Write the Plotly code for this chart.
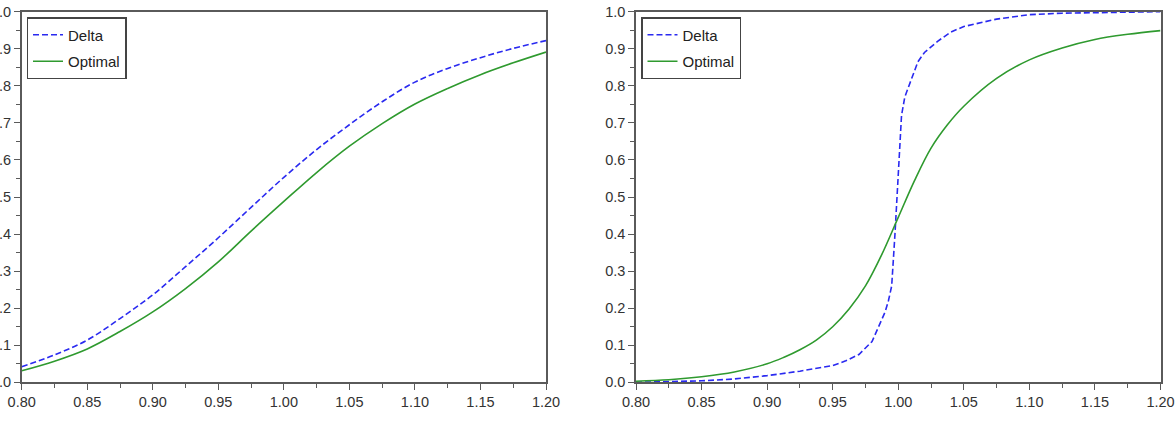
import plotly.graph_objects as go

# ---- Left panel data ----
left_x = [0.80, 0.825, 0.85, 0.875, 0.90, 0.925, 0.95, 0.975, 1.00, 1.025, 1.05,
          1.075, 1.10, 1.125, 1.15, 1.175, 1.20]
left_delta = [0.042, 0.074, 0.114, 0.172, 0.236, 0.312, 0.390, 0.472, 0.553, 0.628,
              0.695, 0.757, 0.810, 0.847, 0.876, 0.901, 0.922]
left_optimal = [0.031, 0.057, 0.090, 0.137, 0.190, 0.253, 0.325, 0.408, 0.488, 0.566,
                0.637, 0.698, 0.751, 0.793, 0.830, 0.862, 0.891]

# ---- Right panel data ----
right_delta_x = [0.80, 0.825, 0.85, 0.875, 0.90, 0.925, 0.95, 0.96, 0.97, 0.98, 0.985,
                 0.99, 0.9925, 0.995, 0.9975, 1.00, 1.0025, 1.005, 1.01, 1.015, 1.02,
                 1.03, 1.04, 1.05, 1.075, 1.10, 1.125, 1.15, 1.175, 1.20]
right_delta = [0.000, 0.002, 0.004, 0.009, 0.018, 0.030, 0.045, 0.058, 0.075, 0.110, 0.150,
               0.190, 0.220, 0.260, 0.400, 0.580, 0.720, 0.770, 0.820, 0.865, 0.890,
               0.920, 0.945, 0.960, 0.980, 0.992, 0.996, 0.998, 0.999, 1.000]
right_opt_x = [0.80, 0.825, 0.85, 0.875, 0.90, 0.9125, 0.925, 0.9375, 0.95, 0.9625, 0.975,
               0.9875, 1.00, 1.0125, 1.025, 1.0375, 1.05, 1.075, 1.10, 1.125, 1.15,
               1.175, 1.20]
right_optimal = [0.003, 0.007, 0.015, 0.028, 0.050, 0.067, 0.088, 0.114, 0.150, 0.198,
                 0.260, 0.345, 0.445, 0.545, 0.632, 0.695, 0.745, 0.820, 0.870, 0.902,
                 0.925, 0.939, 0.949]

x_ticks = [0.80, 0.85, 0.90, 0.95, 1.00, 1.05, 1.10, 1.15, 1.20]
x_tick_text = ["0.80", "0.85", "0.90", "0.95", "1.00", "1.05", "1.10", "1.15", "1.20"]
y_ticks = [0.0, 0.1, 0.2, 0.3, 0.4, 0.5, 0.6, 0.7, 0.8, 0.9, 1.0]
y_tick_text = ["0.0", "0.1", "0.2", "0.3", "0.4", "0.5", "0.6", "0.7", "0.8", "0.9", "1.0"]

BLUE = "#2a2af0"
GREEN = "#2f9a2f"
AXIS = "#5a5a5a"
FONT = "Liberation Sans, Arial, sans-serif"

fig = go.Figure()
fig.add_trace(go.Scatter(x=left_x, y=left_delta, mode="lines", name="Delta",
                         line=dict(color=BLUE, width=1.6, dash="6px,3px",
                                   shape="spline", smoothing=1.0),
                         xaxis="x", yaxis="y", legend="legend", legendgroup="a"))
fig.add_trace(go.Scatter(x=left_x, y=left_optimal, mode="lines", name="Optimal",
                         line=dict(color=GREEN, width=1.6, shape="spline", smoothing=1.0),
                         xaxis="x", yaxis="y", legend="legend", legendgroup="b"))
fig.add_trace(go.Scatter(x=right_delta_x, y=right_delta, mode="lines", name="Delta",
                         line=dict(color=BLUE, width=1.6, dash="6px,3px"),
                         xaxis="x2", yaxis="y2", legend="legend2", legendgroup="c"))
fig.add_trace(go.Scatter(x=right_opt_x, y=right_optimal, mode="lines", name="Optimal",
                         line=dict(color=GREEN, width=1.6, shape="spline", smoothing=1.0),
                         xaxis="x2", yaxis="y2", legend="legend2", legendgroup="d"))

W, H = 1176, 423
ydom = [(H - 382.3) / H, (H - 11.7) / H]

def xaxis(dom, anchor):
    return dict(domain=dom, anchor=anchor, range=[0.80, 1.20], tickvals=x_ticks,
                ticktext=x_tick_text, ticks="outside", ticklen=6, tickwidth=1.3,
                tickcolor=AXIS, showline=True, linecolor=AXIS, linewidth=1.5,
                mirror=True, showgrid=False, zeroline=False,
                tickfont=dict(size=14.5, color="#333333", family=FONT),
                minor=dict(dtick=0.025, tick0=0.8, ticks="outside", ticklen=4,
                           tickwidth=1.3, tickcolor=AXIS, showgrid=False),
                automargin=False)

def yaxis(anchor):
    return dict(domain=ydom, anchor=anchor, range=[0, 1], tickvals=y_ticks,
                ticktext=y_tick_text, ticks="outside", ticklen=6, tickwidth=1.3,
                tickcolor=AXIS, showline=True, linecolor=AXIS, linewidth=1.5,
                mirror=True, showgrid=False, zeroline=False,
                tickfont=dict(size=14.5, color="#333333", family=FONT),
                minor=dict(dtick=0.05, tick0=0, ticks="outside", ticklen=4,
                           tickwidth=1.3, tickcolor=AXIS, showgrid=False),
                automargin=False)

legend_style = dict(bgcolor="white", bordercolor="#444444", borderwidth=1.5,
                    font=dict(size=15, color="#222222", family=FONT),
                    xanchor="left", yanchor="top", tracegroupgap=4, itemwidth=30)

fig.update_layout(
    width=W, height=H,
    margin=dict(l=0, r=0, t=0, b=0),
    paper_bgcolor="white", plot_bgcolor="white",
    xaxis=xaxis([21.7 / W, 546.0 / W], "y"),
    yaxis=yaxis("x"),
    xaxis2=xaxis([636.0 / W, 1160.5 / W], "y2"),
    yaxis2=yaxis("x2"),
    legend=dict(x=26.5 / W, y=(H - 17) / H, xref="paper", yref="paper", **legend_style),
    legend2=dict(x=641.0 / W, y=(H - 17) / H, xref="paper", yref="paper", **legend_style),
    showlegend=True,
)

fig.write_html("out.html")
